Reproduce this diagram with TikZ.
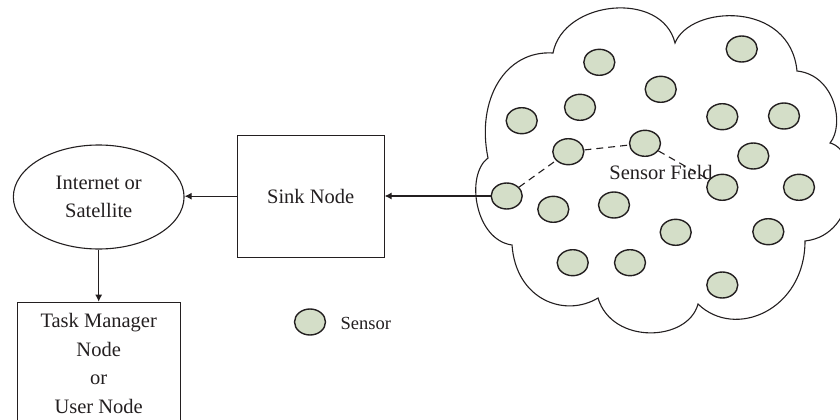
\documentclass[tikz,border=0pt]{standalone}
\usepackage{fontspec}
\setmainfont{Liberation Serif}
\usetikzlibrary{shapes.geometric,arrows.meta}
\definecolor{sensfill}{HTML}{D4DEC8}
\definecolor{ink}{HTML}{231F20}
\begin{document}
\begin{tikzpicture}[x=1pt,y=-1pt,color=ink,line width=1.1pt,
  lbl/.style={font=\fontsize{20.5}{28.5}\selectfont, align=center, inner sep=0pt},
  sensor/.style={ellipse, draw=ink, fill=sensfill, line width=1.4pt, minimum width=31pt, minimum height=26pt, inner sep=0pt},
  arr/.style={-{Latex[length=7pt,width=7pt]}},
  boxed/.style={draw, rectangle, inner sep=0pt},
]
\useasboundingbox (0,0) rectangle (840,420);
% cloud
\draw (488,158) .. controls (476,100) and (505,50) .. (553,53)
 .. controls (563,0) and (662,-10) .. (675,43)
 .. controls (690,5) and (790,0) .. (797,71)
 .. controls (835,75) and (845,125) .. (830,143)
 .. controls (860,150) and (860,235) .. (805,241)
 .. controls (805,310) and (735,340) .. (698,304)
 .. controls (688,342) and (612,345) .. (598,298)
 .. controls (565,318) and (516,300) .. (512,245)
 .. controls (475,240) and (465,175) .. cycle;
% sensors
\node (s1) [sensor] at (741.7,49) {};
\node (s2) [sensor] at (599.3,62.3) {};
\node (s3) [sensor] at (660.7,89.3) {};
\node (s4) [sensor] at (521.7,120.7) {};
\node (s5) [sensor] at (580,107.3) {};
\node (s6) [sensor] at (722.3,116.7) {};
\node (s7) [sensor] at (784,116) {};
\node (s8) [sensor] at (568.3,151.7) {};
\node (s9) [sensor] at (645,143.3) {};
\node (s10) [sensor] at (753.3,156) {};
\node (s11) [sensor] at (506.7,196) {};
\node (s12) [sensor] at (553.3,209.3) {};
\node (s13) [sensor] at (614,205) {};
\node (s14) [sensor] at (722.3,187.3) {};
\node (s15) [sensor] at (799,187.3) {};
\node (s16) [sensor] at (675.7,232.3) {};
\node (s17) [sensor] at (768.3,231.7) {};
\node (s18) [sensor] at (572.7,262.7) {};
\node (s19) [sensor] at (630,262.7) {};
\node (s20) [sensor] at (722.3,285) {};
\node (sf) [lbl] at (661,172) {Sensor Field};
\draw[dash pattern=on 7pt off 5pt] (s11) -- (s8) -- (s9) -- (s14);
% main nodes
\node (sink) [boxed, lbl, minimum width=146.7pt, minimum height=122.3pt] at (310.7,196.2) {Sink Node};
\node (net) [ellipse, draw, lbl, minimum width=170.7pt, minimum height=104pt] at (98.7,197) {Internet or\\Satellite};
\node (task) [boxed, minimum width=162.7pt, minimum height=130pt, anchor=north] at (98.7,301.7) {};
\node (tasktext) [lbl] at (98.7,363.5) {Task Manager\\Node\\or\\User Node};
% connectors
\draw[arr] (s11.west) -- (s11.west -| sink.east);
\draw[arr] (sink.west) -- (sink.west -| net.east);
\draw[arr] (net.south) -- (net.south |- task.north);
% legend
\node (leg) [sensor] at (310,322) {};
\node (legtext) [anchor=west, inner sep=0pt, font=\fontsize{18.5}{20}\selectfont] at (340,323) {Sensor};
\end{tikzpicture}
\end{document}
